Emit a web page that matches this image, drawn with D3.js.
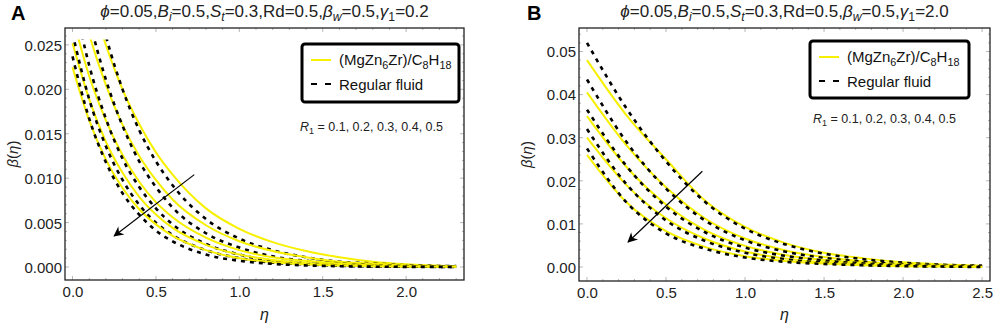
<!DOCTYPE html>
<html lang="en">
<head>
  <meta charset="UTF-8">
  <title>beta(eta) profiles</title>
  <script src="https://cdn.jsdelivr.net/npm/d3@7"></script>
  <style>
    html, body { margin: 0; padding: 0; background: #fff; }
    svg { font-family: "Liberation Sans", Arial, sans-serif; }
    .yellow { fill: none; stroke: #f7f000; stroke-width: 2px; }
    .dashed { fill: none; stroke: #000; stroke-width: 2.6px; stroke-dasharray: 4 5; }
  </style>
</head>
<body>
<script>
  // ---- data ----
  const etaA = [0, 0.1, 0.2, 0.3, 0.4, 0.5, 0.6, 0.8, 1.0, 1.2, 1.4, 1.6, 1.8, 2.0, 2.3];
  // nanofluid (MgZn6Zr)/C8H18, R1 = 0.1 ... 0.5
  const yellowA = [
    [0.0388, 0.0311, 0.0250, 0.0200, 0.0161, 0.0129, 0.0104, 0.0066, 0.0043, 0.0028, 0.0018, 0.0011, 0.0006, 0.0003, 0.0001],
    [0.0336, 0.0262, 0.0205, 0.0160, 0.0125, 0.0098, 0.0076, 0.0047, 0.0029, 0.0018, 0.0011, 0.0006, 0.0004, 0.0002, 0.0001],
    [0.0282, 0.0215, 0.0165, 0.0126, 0.0096, 0.0073, 0.0056, 0.0033, 0.0019, 0.0011, 0.0007, 0.0004, 0.0002, 0.0001, 0.00005],
    [0.0252, 0.0189, 0.0141, 0.0106, 0.0079, 0.0059, 0.0044, 0.0025, 0.0014, 0.0008, 0.00045, 0.00025, 0.00014, 0.00008, 0.00003],
    [0.0225, 0.0165, 0.0121, 0.0089, 0.0065, 0.0048, 0.0035, 0.0019, 0.0010, 0.00055, 0.0003, 0.00016, 0.00009, 0.00005, 0.00002]
  ];
  // regular fluid
  const dashedA = [
    [0.0437, 0.0337, 0.0260, 0.0200, 0.0154, 0.0119, 0.0092, 0.0054, 0.0032, 0.0019, 0.0011, 0.0006, 0.0004, 0.0002, 0.0001],
    [0.0373, 0.0280, 0.0211, 0.0159, 0.0119, 0.0090, 0.0067, 0.0038, 0.0022, 0.0012, 0.0007, 0.0004, 0.0002, 0.0001, 0.00005],
    [0.0310, 0.0227, 0.0167, 0.0122, 0.0090, 0.0066, 0.0048, 0.0026, 0.0014, 0.0007, 0.0004, 0.0002, 0.0001, 0.00006, 0.00002],
    [0.0263, 0.0189, 0.0136, 0.0098, 0.0070, 0.0050, 0.0036, 0.0019, 0.0010, 0.0005, 0.0003, 0.00014, 0.00007, 0.00004, 0.00001],
    [0.0237, 0.0167, 0.0118, 0.0083, 0.0059, 0.0041, 0.0029, 0.0014, 0.0007, 0.00036, 0.00018, 0.00009, 0.00004, 0.00002, 0.00001]
  ];

  const etaB = [0, 0.25, 0.5, 0.75, 1.0, 1.25, 1.5, 1.75, 2.0, 2.25, 2.5];
  const yellowB = [
    [0.0480, 0.0352, 0.0250, 0.0153, 0.0093, 0.0056, 0.0033, 0.0020, 0.0011, 0.0006, 0.0003],
    [0.0405, 0.0282, 0.0185, 0.0112, 0.0066, 0.0039, 0.0023, 0.0013, 0.0007, 0.0004, 0.0002],
    [0.0350, 0.0232, 0.0145, 0.0085, 0.0049, 0.0028, 0.0016, 0.0009, 0.0005, 0.0003, 0.0001],
    [0.0300, 0.0190, 0.0113, 0.0065, 0.0036, 0.0020, 0.0011, 0.0006, 0.0003, 0.0002, 0.0001],
    [0.0260, 0.0150, 0.0083, 0.0046, 0.0025, 0.0014, 0.0008, 0.0004, 0.0002, 0.0001, 0.0000]
  ];
  const dashedB = [
    [0.0520, 0.0368, 0.0245, 0.0150, 0.0089, 0.0053, 0.0031, 0.0018, 0.0010, 0.0005, 0.0003],
    [0.0435, 0.0290, 0.0182, 0.0107, 0.0062, 0.0036, 0.0021, 0.0012, 0.0006, 0.0003, 0.0002],
    [0.0365, 0.0234, 0.0140, 0.0080, 0.0045, 0.0026, 0.0015, 0.0008, 0.0004, 0.0002, 0.0001],
    [0.0320, 0.0192, 0.0108, 0.0060, 0.0033, 0.0018, 0.0010, 0.0005, 0.0003, 0.0001, 0.0001],
    [0.0275, 0.0150, 0.0078, 0.0042, 0.0022, 0.0012, 0.0007, 0.0004, 0.0002, 0.0001, 0.0000]
  ];

  const xTicksA = [0, 0.5, 1.0, 1.5, 2.0];
  const yTicksA = [0, 0.005, 0.010, 0.015, 0.020, 0.025];
  const xTicksB = [0, 0.5, 1.0, 1.5, 2.0, 2.5];
  const yTicksB = [0, 0.01, 0.02, 0.03, 0.04, 0.05];
  const r1Values = "= 0.1, 0.2, 0.3, 0.4, 0.5";

  const width = 996, height = 331;
  const svg = d3.select('body').append('svg').attr('width', width).attr('height', height);

  const defs = svg.append('defs');
  defs.append('marker').attr('id', 'arrowhead')
    .attr('viewBox', '0 0 10 10').attr('refX', 9).attr('refY', 5)
    .attr('markerWidth', 14).attr('markerHeight', 10).attr('markerUnits', 'userSpaceOnUse')
    .attr('orient', 'auto')
    .append('path').attr('d', 'M0,0 L10,5 L0,10 L3,5 Z').attr('fill', '#000');

  // write a label made of pieces: [text, italic, sub, back-to-baseline]
  function richText(sel, parts, size) {
    parts.forEach(p => {
      const t = sel.append('tspan').text(p[0])
        .style('font-style', p[1] ? 'italic' : 'normal');
      if (p[2]) t.attr('dy', size * 0.25).style('font-size', (size * 0.72) + 'px');
      if (p[3]) t.attr('dy', -size * 0.25);
    });
  }

  function drawPanel(cfg) {
    const g = svg.append('g');
    const x = d3.scaleLinear().domain(cfg.xDomain).range([cfg.left, cfg.right]);
    const y = d3.scaleLinear().domain(cfg.yDomain).range([cfg.bottom, cfg.top]);

    const clipId = 'clip' + cfg.letter;
    defs.append('clipPath').attr('id', clipId).append('rect')
      .attr('x', cfg.left).attr('width', cfg.right - cfg.left)
      .attr('y', y(cfg.clipTop)).attr('height', cfg.bottom - y(cfg.clipTop));

    // axes (Mathematica-like frame, ticks inside)
    const xAxis = d3.axisBottom(x).tickValues(cfg.xTicks).tickFormat(d3.format('.1f')).tickSize(0).tickPadding(6);
    const yAxis = d3.axisLeft(y).tickValues(cfg.yTicks).tickFormat(d3.format(cfg.yFmt)).tickSize(0).tickPadding(3);
    const gx = g.append('g').attr('transform', `translate(0,${cfg.bottom})`).call(xAxis);
    const gy = g.append('g').attr('transform', `translate(${cfg.left},0)`).call(yAxis);
    [gx, gy].forEach(a => {
      a.select('.domain').remove();
      a.selectAll('text').style('font-size', '15px').attr('fill', '#222')
        .attr('font-family', '"Liberation Sans", Arial, sans-serif');
    });
    gy.selectAll('text').attr('dy', '0.36em');

    // inner ticks
    const minorX = d3.range(cfg.xTicks[0], cfg.xDomain[1], (cfg.xTicks[1] - cfg.xTicks[0]) / 5);
    const minorY = d3.range(cfg.yTicks[0], cfg.yDomain[1], (cfg.yTicks[1] - cfg.yTicks[0]) / 5);
    const tickG = g.append('g').attr('stroke', '#999').attr('stroke-width', 0.7);
    minorX.forEach((v, i) => {
      const len = i % 5 === 0 ? 4 : 2;
      tickG.append('line').attr('x1', x(v)).attr('x2', x(v)).attr('y1', cfg.bottom).attr('y2', cfg.bottom - len);
      tickG.append('line').attr('x1', x(v)).attr('x2', x(v)).attr('y1', cfg.top).attr('y2', cfg.top + len);
    });
    minorY.forEach((v, i) => {
      const len = i % 5 === 0 ? 4 : 2;
      tickG.append('line').attr('y1', y(v)).attr('y2', y(v)).attr('x1', cfg.left).attr('x2', cfg.left + len);
      tickG.append('line').attr('y1', y(v)).attr('y2', y(v)).attr('x1', cfg.right).attr('x2', cfg.right - len);
    });

    // curves
    const line = d3.line().x(d => x(d[0])).y(d => y(d[1])).curve(d3.curveMonotoneX);
    const curves = g.append('g').attr('clip-path', `url(#${clipId})`);
    cfg.yellow.forEach((vals, i) => {
      curves.append('path').attr('class', 'yellow').attr('d', line(cfg.eta.map((e, j) => [e, vals[j]])));
      curves.append('path').attr('class', 'dashed').attr('d', line(cfg.eta.map((e, j) => [e, cfg.dashed[i][j]])));
    });

    // frame
    g.append('rect').attr('x', cfg.left).attr('y', cfg.top)
      .attr('width', cfg.right - cfg.left).attr('height', cfg.bottom - cfg.top)
      .attr('fill', 'none').attr('stroke', '#222').attr('stroke-width', 1.3);

    // arrow
    g.append('line')
      .attr('x1', x(cfg.arrow[0][0])).attr('y1', y(cfg.arrow[0][1]))
      .attr('x2', x(cfg.arrow[1][0])).attr('y2', y(cfg.arrow[1][1]))
      .attr('stroke', '#000').attr('stroke-width', 1.2).attr('marker-end', 'url(#arrowhead)');

    // legend
    const lg = cfg.legend;
    g.append('rect').attr('x', lg.x).attr('y', lg.y).attr('width', lg.w).attr('height', lg.h)
      .attr('rx', 3).attr('fill', '#fff').attr('stroke', '#000').attr('stroke-width', 3);
    g.append('line').attr('x1', lg.x + 9).attr('x2', lg.x + 29).attr('y1', lg.y + 16).attr('y2', lg.y + 16)
      .attr('stroke', '#f7f000').attr('stroke-width', 2);
    g.append('line').attr('x1', lg.x + 9).attr('x2', lg.x + 29).attr('y1', lg.y + 40).attr('y2', lg.y + 40)
      .attr('stroke', '#000').attr('stroke-width', 2).attr('stroke-dasharray', '6 8');
    const t1 = g.append('text').attr('x', lg.x + 37).attr('y', lg.y + 21).style('font-size', '15px').attr('fill', '#111');
    richText(t1, [['(MgZn'], ['6', false, true], ['Zr)/C', false, false, true], ['8', false, true], ['H', false, false, true], ['18', false, true]], 15);
    g.append('text').attr('x', lg.x + 37).attr('y', lg.y + 46).style('font-size', '15px').attr('fill', '#111')
      .text('Regular fluid');

    const r1 = g.append('text').attr('x', lg.rx).attr('y', lg.ry).style('font-size', '12.5px').attr('fill', '#222');
    richText(r1, [['R', true], ['1', false, true], [' ' + r1Values, false, false, true]], 12.5);

    // titles
    svg.append('text').attr('x', cfg.letterX).attr('y', 20).text(cfg.letter)
      .style('font-size', '20px').style('font-weight', 'bold');
    const title = svg.append('text').attr('x', (cfg.left + cfg.right) / 2).attr('y', 17)
      .attr('text-anchor', 'middle').style('font-size', '17px').attr('fill', '#222');
    richText(title, [
      ['\u03D5', true], ['=0.05,'], ['B', true], ['i', true, true], ['=0.5,', false, false, true],
      ['S', true], ['t', true, true], ['=0.3,Rd=0.5,', false, false, true],
      ['\u03B2', true], ['w', true, true], ['=0.5,', false, false, true],
      ['\u03B3', true], ['1', false, true], ['=' + cfg.gamma, false, false, true]
    ], 17);

    // axis labels
    const yl = svg.append('text').attr('transform', `translate(${cfg.left - 47},${(cfg.top + cfg.bottom) / 2}) rotate(-90)`)
      .attr('text-anchor', 'middle').style('font-size', '15px').attr('fill', '#222');
    richText(yl, [['\u03B2', true], ['('], ['\u03B7', true], [')']], 15);
    svg.append('text').attr('x', (cfg.left + cfg.right) / 2).attr('y', 320)
      .attr('text-anchor', 'middle').style('font-size', '16px').style('font-style', 'italic')
      .attr('fill', '#222').text('\u03B7');
  }

  drawPanel({
    letter: 'A', letterX: 11, gamma: '0.2',
    left: 65, right: 464, top: 28, bottom: 280,
    xDomain: [-0.045, 2.347], yDomain: [-0.00146, 0.0269], clipTop: 0.0256,
    xTicks: xTicksA, yTicks: yTicksA, yFmt: '.3f',
    eta: etaA, yellow: yellowA, dashed: dashedA,
    arrow: [[0.73, 0.0104], [0.25, 0.0035]],
    legend: { x: 302, y: 44, w: 157, h: 58, rx: 300, ry: 131 }
  });

  drawPanel({
    letter: 'B', letterX: 527, gamma: '2.0',
    left: 579, right: 990, top: 28, bottom: 281,
    xDomain: [-0.0506, 2.55], yDomain: [-0.00325, 0.05545], clipTop: 0.06,
    xTicks: xTicksB, yTicks: yTicksB, yFmt: '.2f',
    eta: etaB, yellow: yellowB, dashed: dashedB,
    arrow: [[0.73, 0.0222], [0.26, 0.0058]],
    legend: { x: 810, y: 41, w: 159, h: 57, rx: 813, ry: 123 }
  });
</script>
</body>
</html>
